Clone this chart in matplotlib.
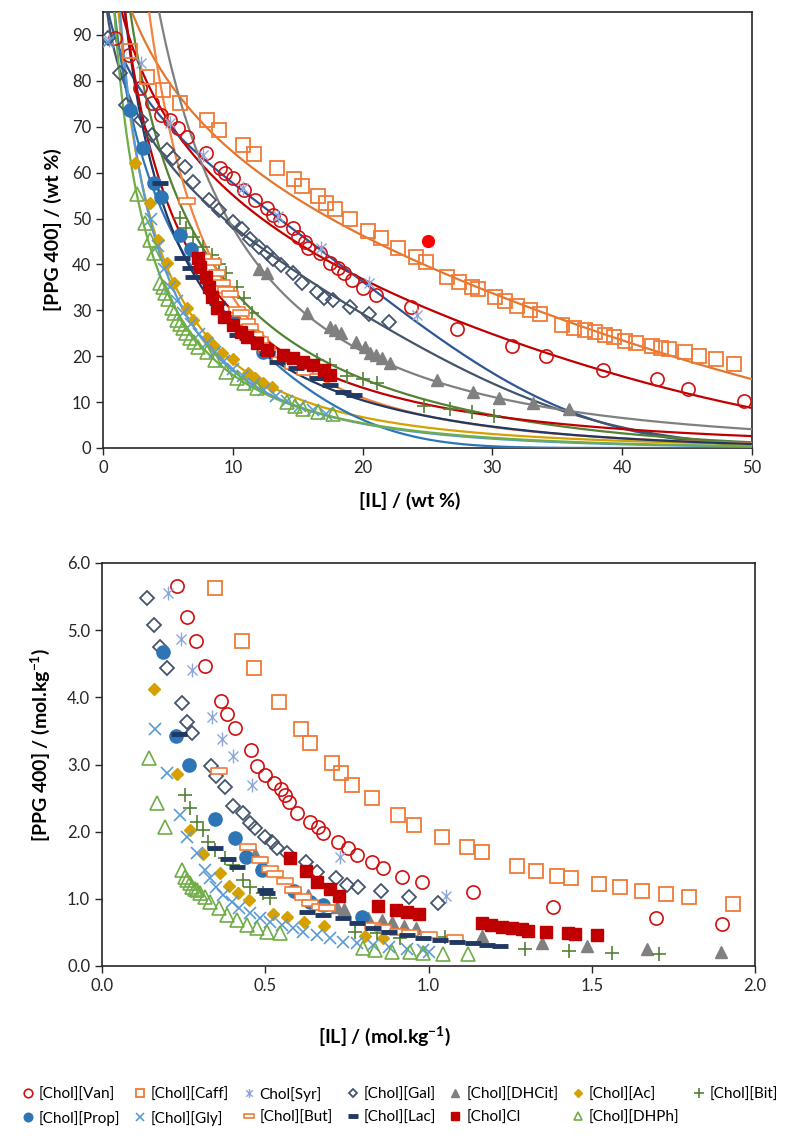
import numpy as np
import matplotlib
matplotlib.use('Agg')
import matplotlib.pyplot as plt
from matplotlib.path import Path

plt.rcParams['font.family'] = ['Lato', 'DejaVu Sans']
plt.rcParams['mathtext.fontset'] = 'custom'
plt.rcParams['mathtext.rm'] = 'Lato'
plt.rcParams['mathtext.bf'] = 'Lato:bold'

# ---------------- top panel data (wt %) ----------------
van_wt_x = [0.9, 2.0, 2.85, 3.8, 4.5, 5.2, 5.8, 6.5, 7.9, 9.0, 9.4, 10.0, 10.9, 11.7, 12.6, 13.1, 13.6, 14.6, 15.0, 15.6, 15.8, 16.7, 17.5, 18.1, 18.6, 19.2, 20.0, 21.0, 23.7, 27.3, 31.5, 34.1, 38.5, 42.7, 45.1, 49.4]
van_wt_y = [89.3, 85.6, 78.4, 75.2, 72.6, 71.5, 69.7, 67.8, 64.3, 61.0, 59.9, 58.8, 56.2, 54.0, 52.3, 50.8, 49.7, 47.9, 46.0, 44.9, 43.6, 42.5, 40.3, 39.2, 38.1, 36.6, 34.8, 33.3, 30.8, 26.0, 22.2, 20.0, 16.9, 15.0, 12.8, 10.2]
caff_wt_x = [2.1, 3.4, 4.6, 5.9, 8.0, 8.9, 10.8, 11.6, 13.4, 14.7, 15.3, 16.6, 17.2, 17.9, 19.0, 20.4, 21.4, 22.7, 24.1, 24.9, 26.5, 27.4, 28.4, 28.9, 30.2, 31.0, 31.9, 32.9, 33.7, 35.4, 36.3, 37.1, 37.9, 38.7, 39.4, 40.2, 41.1, 42.3, 43.0, 43.6, 44.8, 45.9, 47.2, 48.6]
caff_wt_y = [86.5, 80.8, 78.0, 75.1, 71.5, 69.3, 66.0, 64.1, 61.0, 58.6, 57.1, 54.9, 53.4, 52.1, 49.9, 47.3, 45.8, 43.5, 41.7, 40.5, 37.2, 36.2, 35.0, 34.6, 33.0, 32.0, 31.0, 30.1, 29.2, 26.8, 26.1, 25.7, 25.2, 24.6, 24.1, 23.3, 22.9, 22.2, 21.8, 21.6, 20.9, 20.1, 19.4, 18.3]
syr_wt_x = [0.5, 2.9, 5.2, 7.7, 10.8, 13.5, 16.8, 20.5, 24.2]
syr_wt_y = [89.0, 83.8, 70.8, 63.8, 56.7, 50.5, 43.5, 36.0, 29.0]
gal_wt_x = [0.4, 1.3, 1.8, 2.9, 3.8, 4.9, 5.4, 6.3, 6.9, 8.2, 8.9, 10.0, 10.7, 11.3, 12.0, 12.6, 13.1, 13.7, 14.6, 15.3, 16.5, 17.0, 17.7, 19.0, 20.5, 22.0]
gal_wt_y = [89.3, 81.8, 74.7, 71.5, 68.2, 64.9, 63.2, 61.2, 58.0, 54.0, 51.9, 49.2, 47.7, 45.6, 43.8, 42.5, 41.1, 39.8, 38.1, 36.0, 34.0, 32.7, 32.3, 30.7, 29.2, 27.5]
dhcit_wt_x = [12.0, 12.6, 15.7, 17.5, 17.9, 18.3, 19.5, 20.2, 20.6, 21.0, 21.5, 22.1, 25.7, 28.5, 30.5, 33.1, 35.9]
dhcit_wt_y = [39.0, 38.2, 29.4, 26.4, 25.7, 25.1, 23.0, 22.0, 20.7, 20.3, 19.6, 18.5, 14.8, 12.2, 11.0, 9.7, 8.6]
ac_wt_x = [2.5, 3.6, 4.2, 4.9, 5.5, 6.5, 6.9, 8.0, 8.5, 9.2, 10.0, 11.2, 11.7, 12.3, 13.0]
ac_wt_y = [62.0, 53.4, 45.3, 40.3, 36.0, 30.5, 27.9, 24.0, 22.4, 20.6, 19.4, 16.4, 15.2, 14.2, 13.4]
bit_wt_x = [5.9, 6.4, 6.9, 7.7, 8.4, 8.9, 9.5, 10.3, 10.9, 11.5, 16.5, 17.5, 18.8, 20.0, 21.1, 24.7, 26.7, 28.4, 30.1]
bit_wt_y = [50.1, 48.0, 46.0, 43.8, 42.1, 40.0, 38.1, 35.1, 32.7, 29.4, 19.2, 18.1, 15.7, 15.0, 14.2, 9.2, 8.5, 7.8, 7.0]
prop_wt_x = [2.1, 3.1, 3.9, 4.5, 5.9, 6.8, 10.1, 12.3]
prop_wt_y = [73.6, 65.4, 57.7, 54.7, 46.4, 43.3, 27.6, 20.9]
gly_wt_x = [0.4, 3.7, 4.2, 4.7, 5.2, 5.7, 6.2, 6.8, 7.4, 8.0, 8.6, 9.3, 10.0, 10.8, 11.6, 12.4, 13.3, 14.2, 15.2, 16.2, 17.2]
gly_wt_y = [88.5, 50.0, 44.0, 39.0, 35.0, 32.0, 29.5, 27.0, 24.8, 22.8, 21.0, 19.0, 17.3, 15.6, 14.0, 12.7, 11.4, 10.3, 9.2, 8.3, 7.5]
but_wt_x = [6.5, 7.7, 8.5, 8.8, 9.2, 9.5, 9.8, 10.3, 10.6, 11.1, 11.3, 11.7, 12.1, 12.6, 13.6, 14.6, 15.6, 16.6]
but_wt_y = [53.8, 41.7, 40.5, 38.1, 36.0, 34.5, 33.5, 30.1, 29.5, 27.5, 26.4, 24.6, 23.5, 21.4, 19.2, 17.8, 16.6, 15.4]
lac_wt_x = [4.4, 6.1, 6.7, 6.9, 8.8, 10.3, 11.1, 12.6, 13.4, 14.9, 16.5, 17.5, 18.5, 19.3]
lac_wt_y = [57.8, 41.4, 39.2, 37.3, 31.6, 24.6, 24.0, 20.7, 18.7, 17.4, 15.2, 13.7, 12.2, 11.5]
cl_wt_x = [7.3, 7.5, 7.9, 8.2, 8.4, 8.8, 9.3, 10.0, 10.6, 11.1, 11.9, 12.6, 13.9, 14.6, 15.4, 16.2, 17.0, 17.5]
cl_wt_y = [41.4, 39.5, 37.3, 35.1, 32.9, 30.5, 28.6, 26.8, 25.3, 24.2, 22.9, 21.4, 20.3, 19.6, 18.7, 18.1, 17.0, 15.9]
dhph_wt_x = [2.6, 3.2, 3.6, 3.9, 4.4, 4.6, 4.8, 5.0, 5.3, 5.5, 5.7, 5.9, 6.2, 6.4, 6.7, 7.0, 7.3, 8.0, 8.6, 9.5, 10.3, 10.9, 11.9, 14.2, 14.8, 15.4, 16.6, 17.7]
dhph_wt_y = [55.3, 49.0, 45.3, 42.5, 36.0, 35.0, 33.8, 32.5, 30.5, 29.5, 27.9, 27.0, 26.1, 25.0, 24.0, 23.0, 22.0, 20.9, 19.2, 16.6, 15.2, 14.2, 13.1, 10.0, 9.2, 8.5, 7.8, 7.4]
extra_wt_x = [25.0]
extra_wt_y = [45.0]

# Merchuk fit parameters (A, B, C): [PPG] = A exp(B [IL]^0.5 - C [IL]^3)
van_fit = (132.25, -0.2749, 6.2e-6)
caff_fit = (133.75, -0.2291, 4.55e-6)
syr_fit = (107.0, -0.185, 3.2e-5)
gal_fit = (109.4, -0.2501, 2.515e-5)
dhcit_fit = (352.0, -0.630, 0.0)
ac_fit = (224.6, -0.7844, 1.25e-7)
bit_fit = (222.5, -0.5867, 8.3e-6)
prop_fit = (152.8, -0.503, 1.204e-4)
gly_fit = (253.0, -0.855, 5.5e-6)
but_fit = (453.0, -0.829, 2.0e-6)
lac_fit = (230.75, -0.6826, 6.0e-6)
cl_fit = (215.0, -0.625, 0.0)
dhph_fit = (201.0, -0.80, 4.5e-6)

# ---------------- bottom panel data (mol/kg) ----------------
van_mol_x = [0.23, 0.26, 0.288, 0.316, 0.364, 0.383, 0.407, 0.456, 0.475, 0.499, 0.527, 0.548, 0.56, 0.573, 0.597, 0.637, 0.662, 0.677, 0.723, 0.753, 0.781, 0.827, 0.861, 0.92, 0.98, 1.136, 1.381, 1.697, 1.899]
van_mol_y = [5.66, 5.19, 4.84, 4.47, 3.95, 3.75, 3.54, 3.22, 2.98, 2.84, 2.72, 2.63, 2.55, 2.44, 2.28, 2.14, 2.07, 1.98, 1.85, 1.76, 1.65, 1.55, 1.46, 1.33, 1.25, 1.10, 0.88, 0.71, 0.63]
caff_mol_x = [0.346, 0.429, 0.466, 0.543, 0.609, 0.637, 0.704, 0.732, 0.766, 0.827, 0.907, 0.956, 1.04, 1.118, 1.163, 1.27, 1.33, 1.393, 1.437, 1.522, 1.587, 1.654, 1.727, 1.797, 1.933]
caff_mol_y = [5.63, 4.84, 4.44, 3.93, 3.53, 3.32, 3.02, 2.87, 2.70, 2.50, 2.25, 2.10, 1.92, 1.77, 1.69, 1.49, 1.41, 1.34, 1.31, 1.22, 1.18, 1.12, 1.07, 1.03, 0.92]
syr_mol_x = [0.202, 0.242, 0.276, 0.337, 0.368, 0.40, 0.46, 0.73, 1.053]
syr_mol_y = [5.55, 4.87, 4.41, 3.70, 3.38, 3.13, 2.70, 1.62, 1.04]
gal_mol_x = [0.138, 0.159, 0.178, 0.199, 0.245, 0.26, 0.275, 0.334, 0.349, 0.377, 0.40, 0.432, 0.453, 0.469, 0.499, 0.52, 0.536, 0.567, 0.625, 0.658, 0.717, 0.75, 0.784, 0.854, 0.94, 1.029]
gal_mol_y = [5.48, 5.08, 4.75, 4.44, 3.92, 3.64, 3.47, 2.98, 2.83, 2.67, 2.38, 2.28, 2.13, 2.05, 1.92, 1.85, 1.76, 1.68, 1.55, 1.40, 1.31, 1.21, 1.18, 1.12, 1.03, 0.94]
dhcit_mol_x = [0.47, 0.49, 0.63, 0.72, 0.74, 0.815, 0.857, 0.888, 0.925, 0.963, 1.164, 1.348, 1.485, 1.669, 1.896]
dhcit_mol_y = [1.67, 1.55, 1.06, 0.88, 0.85, 0.72, 0.69, 0.66, 0.60, 0.57, 0.44, 0.34, 0.30, 0.25, 0.21]
ac_mol_x = [0.16, 0.23, 0.27, 0.31, 0.36, 0.39, 0.416, 0.45, 0.523, 0.566, 0.62, 0.68, 0.806, 0.86]
ac_mol_y = [4.12, 2.86, 2.03, 1.67, 1.39, 1.19, 1.08, 0.98, 0.77, 0.73, 0.65, 0.60, 0.45, 0.42]
bit_mol_x = [0.254, 0.27, 0.29, 0.31, 0.325, 0.346, 0.377, 0.40, 0.432, 0.453, 0.493, 0.515, 0.775, 0.842, 0.913, 1.05, 1.295, 1.43, 1.562, 1.706]
bit_mol_y = [2.55, 2.35, 2.15, 2.02, 1.85, 1.72, 1.61, 1.50, 1.28, 1.18, 1.08, 1.01, 0.51, 0.49, 0.42, 0.43, 0.26, 0.23, 0.19, 0.18]
prop_mol_x = [0.187, 0.226, 0.267, 0.346, 0.407, 0.44, 0.49, 0.588, 0.637, 0.677, 0.796]
prop_mol_y = [4.67, 3.42, 3.00, 2.19, 1.91, 1.62, 1.43, 1.12, 0.95, 0.91, 0.73]
gly_mol_x = [0.162, 0.198, 0.239, 0.26, 0.29, 0.316, 0.33, 0.35, 0.37, 0.397, 0.42, 0.453, 0.484, 0.515, 0.55, 0.586, 0.617, 0.658, 0.698, 0.738, 0.78, 0.83, 0.88, 0.933, 0.983, 1.0]
gly_mol_y = [3.53, 2.87, 2.25, 1.92, 1.68, 1.43, 1.31, 1.18, 1.06, 0.95, 0.86, 0.79, 0.71, 0.66, 0.61, 0.56, 0.51, 0.46, 0.42, 0.36, 0.34, 0.31, 0.28, 0.26, 0.24, 0.21]
but_mol_x = [0.359, 0.447, 0.484, 0.515, 0.53, 0.56, 0.586, 0.616, 0.637, 0.668, 0.69, 0.83, 0.86, 0.906, 0.943, 1.0, 1.08]
but_mol_y = [2.90, 1.77, 1.58, 1.44, 1.37, 1.26, 1.13, 1.03, 0.94, 0.88, 0.86, 0.60, 0.56, 0.51, 0.49, 0.46, 0.42]
lac_mol_x = [0.237, 0.346, 0.386, 0.413, 0.499, 0.505, 0.628, 0.677, 0.738, 0.78, 0.83, 0.88, 0.933, 0.983, 1.035, 1.087, 1.136, 1.18, 1.22]
lac_mol_y = [3.45, 1.76, 1.59, 1.48, 1.13, 1.09, 0.80, 0.76, 0.71, 0.64, 0.56, 0.51, 0.46, 0.41, 0.39, 0.36, 0.34, 0.31, 0.30]
cl_mol_x = [0.576, 0.625, 0.658, 0.698, 0.726, 0.845, 0.90, 0.934, 0.971, 1.165, 1.19, 1.225, 1.255, 1.286, 1.305, 1.36, 1.427, 1.449, 1.516]
cl_mol_y = [1.61, 1.42, 1.25, 1.14, 1.04, 0.89, 0.83, 0.80, 0.77, 0.64, 0.61, 0.58, 0.57, 0.55, 0.52, 0.51, 0.49, 0.48, 0.46]
dhph_mol_x = [0.145, 0.168, 0.192, 0.244, 0.254, 0.26, 0.268, 0.276, 0.284, 0.29, 0.30, 0.316, 0.33, 0.357, 0.382, 0.413, 0.444, 0.474, 0.505, 0.546, 0.80, 0.836, 0.887, 0.943, 0.983, 1.045, 1.12]
dhph_mol_y = [3.09, 2.42, 2.07, 1.43, 1.33, 1.28, 1.23, 1.18, 1.15, 1.13, 1.08, 1.03, 0.95, 0.86, 0.76, 0.68, 0.61, 0.56, 0.51, 0.49, 0.27, 0.24, 0.21, 0.21, 0.19, 0.18, 0.18]

labels = ['[Chol][Van]', '[Chol][Caff]', 'Chol[Syr]', '[Chol][Gal]', '[Chol][DHCit]', '[Chol][Ac]', '[Chol][Bit]',
          '[Chol][Prop]', '[Chol][Gly]', '[Chol][But]', '[Chol][Lac]', '[Chol]Cl', '[Chol][DHPh]']

top_data = [(van_wt_x, van_wt_y), (caff_wt_x, caff_wt_y), (syr_wt_x, syr_wt_y), (gal_wt_x, gal_wt_y),
            (dhcit_wt_x, dhcit_wt_y), (ac_wt_x, ac_wt_y), (bit_wt_x, bit_wt_y), (prop_wt_x, prop_wt_y),
            (gly_wt_x, gly_wt_y), (but_wt_x, but_wt_y), (lac_wt_x, lac_wt_y), (cl_wt_x, cl_wt_y), (dhph_wt_x, dhph_wt_y)]
fits = [van_fit, caff_fit, syr_fit, gal_fit, dhcit_fit, ac_fit, bit_fit, prop_fit, gly_fit, but_fit, lac_fit, cl_fit, dhph_fit]
bot_data = [(van_mol_x, van_mol_y), (caff_mol_x, caff_mol_y), (syr_mol_x, syr_mol_y), (gal_mol_x, gal_mol_y),
            (dhcit_mol_x, dhcit_mol_y), (ac_mol_x, ac_mol_y), (bit_mol_x, bit_mol_y), (prop_mol_x, prop_mol_y),
            (gly_mol_x, gly_mol_y), (but_mol_x, but_mol_y), (lac_mol_x, lac_mol_y), (cl_mol_x, cl_mol_y), (dhph_mol_x, dhph_mol_y)]

# ---------------- styles ----------------
rect_marker = Path([(-1, -0.32), (1, -0.32), (1, 0.32), (-1, 0.32), (-1, -0.32)],
                   [Path.MOVETO, Path.LINETO, Path.LINETO, Path.LINETO, Path.CLOSEPOLY])
star_marker = Path([(0, -1), (0, 1), (-0.72, -0.72), (0.72, 0.72), (-0.72, 0.72), (0.72, -0.72)],
                   [Path.MOVETO, Path.LINETO, Path.MOVETO, Path.LINETO, Path.MOVETO, Path.LINETO])
styles = [
    dict(marker='o', ms=9.5, mfc='none', mec='#D01010', mew=1.2),
    dict(marker='s', ms=9.5, mfc='none', mec='#F07A35', mew=1.3),
    dict(marker=star_marker, ms=10, mfc='none', mec='#8EA6DA', mew=1.0),
    dict(marker='D', ms=7, mfc='none', mec='#44546A', mew=1.3),
    dict(marker='^', ms=9, mfc='#808080', mec='#808080', mew=1.0),
    dict(marker='D', ms=6.5, mfc='#D6A100', mec='#D6A100', mew=1.0),
    dict(marker='+', ms=10, mfc='none', mec='#548235', mew=1.2),
    dict(marker='o', ms=9.5, mfc='#2E75B6', mec='#2E75B6', mew=1.0),
    dict(marker='x', ms=8.5, mfc='none', mec='#5B9BD5', mew=1.2),
    dict(marker=rect_marker, ms=12, mfc='white', mec='#F07A35', mew=1.2),
    dict(marker='_', ms=12, mfc='none', mec='#203864', mew=3.5),
    dict(marker='s', ms=8.5, mfc='#C00000', mec='#C00000', mew=1.0),
    dict(marker='^', ms=9.5, mfc='none', mec='#70AD47', mew=1.2),
]
line_colors = ['#C00000', '#E2782F', '#2F5597', '#44546A', '#808080', '#D6A100', '#548235',
               '#2E75B6', '#5B9BD5', '#F4843E', '#203864', '#C00000', '#70AD47']

fig = plt.figure(figsize=(8.0, 11.38), dpi=100)
ax1 = fig.add_axes([103/800, 1-448/1138, (752-103)/800, (448-12)/1138])
ax2 = fig.add_axes([102/800, 1-966/1138, (755-102)/800, (966-563)/1138])

xx = np.linspace(0.2, 50, 800)
for i, (A, B, C) in enumerate(fits):
    ax1.plot(xx, A*np.exp(B*np.sqrt(xx) - C*xx**3), color=line_colors[i], lw=1.6, zorder=3)

for i, (x, y) in enumerate(top_data):
    ax1.plot(x, y, ls='none', zorder=4, **styles[i])
ax1.plot(extra_wt_x, extra_wt_y, ls='none', marker='o', ms=8.5, mfc='#FF0000', mec='#FF0000', zorder=5)

handles = []
for i, (x, y) in enumerate(bot_data):
    h, = ax2.plot(x, y, ls='none', zorder=4, **styles[i])
    handles.append(h)

ax1.set_xlim(0, 50); ax1.set_ylim(0, 95)
ax1.set_xticks(np.arange(0, 51, 10)); ax1.set_yticks(np.arange(0, 91, 10))
ax2.set_xlim(0, 2.0); ax2.set_ylim(0, 6.0)
ax2.set_xticks(np.arange(0, 2.01, 0.5)); ax2.set_yticks(np.arange(0, 6.01, 1.0))
ax2.xaxis.set_major_formatter(matplotlib.ticker.FormatStrFormatter('%.1f'))
ax2.yaxis.set_major_formatter(matplotlib.ticker.FormatStrFormatter('%.1f'))
for ax in (ax1, ax2):
    ax.tick_params(direction='out', length=5, width=1, labelsize=12, colors='#262626')
    for s in ax.spines.values():
        s.set_linewidth(1.2); s.set_color('#262626')

ax1.set_xlabel('[IL] / (wt %)', fontsize=14, fontweight='bold')
ax1.xaxis.set_label_coords(0.473, -0.1)
ax1.set_ylabel('[PPG 400] / (wt %)', fontsize=14, fontweight='bold')
ax1.yaxis.set_label_coords(-0.063, 0.5)
ax2.set_xlabel(r'[IL] / (mol.kg$^{\mathbf{-1}}$)', fontsize=14, fontweight='bold')
ax2.xaxis.set_label_coords(0.433, -0.145)
ax2.set_ylabel(r'[PPG 400] / (mol.kg$^{\mathbf{-1}}$)', fontsize=14, fontweight='bold')
ax2.yaxis.set_label_coords(-0.077, 0.548)

order = [0, 7, 1, 8, 2, 9, 3, 10, 4, 11, 5, 12, 6]
leg = fig.legend([handles[k] for k in order], [labels[k] for k in order], loc='center left',
                 bbox_to_anchor=(0.01, 0.028), ncol=7, frameon=False, fontsize=11,
                 markerscale=0.65, handlelength=0.8, handletextpad=0.3, columnspacing=0.9,
                 labelspacing=0.6)

fig.savefig('out.png', dpi=100)
